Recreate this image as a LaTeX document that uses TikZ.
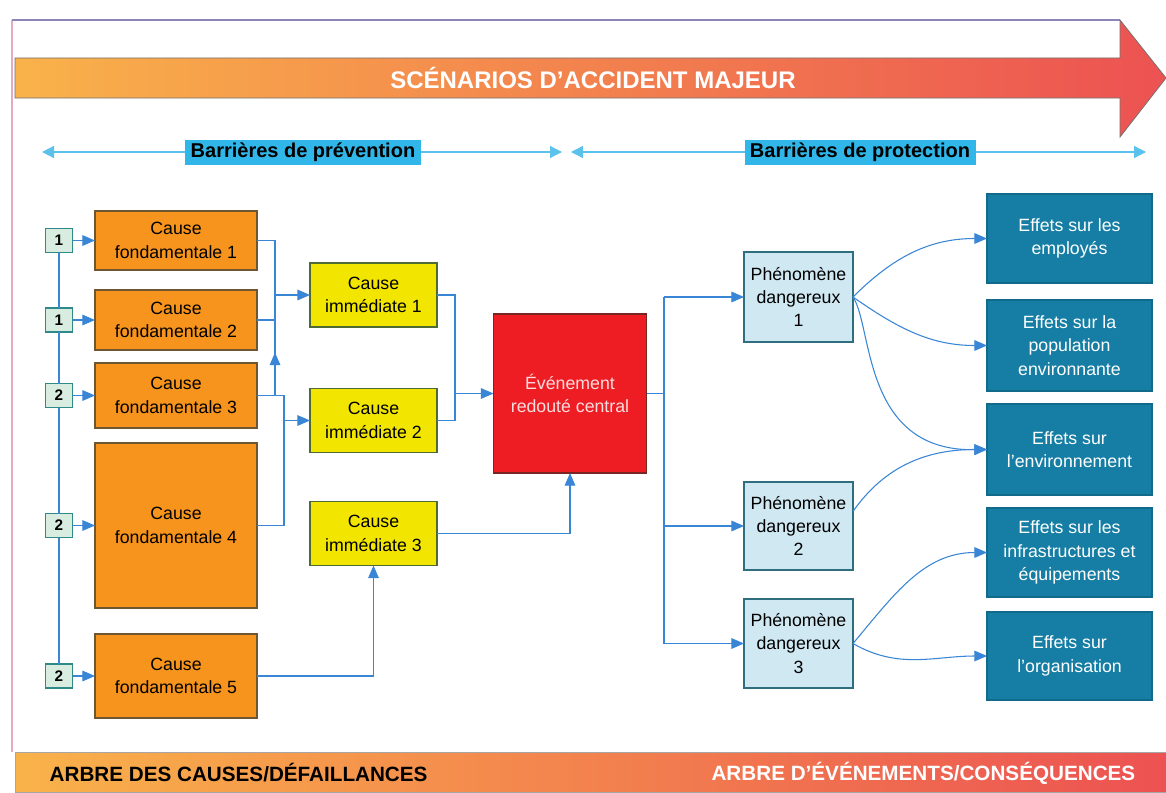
\documentclass[tikz,border=0pt]{standalone}
\usepackage{fontspec}
\setmainfont{Liberation Sans}
\usetikzlibrary{arrows.meta,calc}

\definecolor{cfOrange}{HTML}{F7941E}
\definecolor{cfEdge}{HTML}{6E5630}
\definecolor{ciYellow}{HTML}{F2E600}
\definecolor{ciEdge}{HTML}{4E6B34}
\definecolor{ercRed}{HTML}{EE1D24}
\definecolor{ercEdge}{HTML}{7A2424}
\definecolor{pdBlue}{HTML}{CFE8F2}
\definecolor{pdEdge}{HTML}{2F6E7E}
\definecolor{effTeal}{HTML}{167EA4}
\definecolor{effEdge}{HTML}{126A8A}
\definecolor{numFill}{HTML}{D8EDDF}
\definecolor{numEdge}{HTML}{2E8A8A}
\definecolor{linkBlue}{HTML}{3A86D6}
\definecolor{barLine}{HTML}{5CC2EC}
\definecolor{barLabel}{HTML}{30B6E8}
\definecolor{warmL}{HTML}{F9B24A}
\definecolor{warmM}{HTML}{F3884F}
\definecolor{warmR}{HTML}{EC5252}
\definecolor{frameLine}{HTML}{E6A9BE}
\definecolor{frameTop}{HTML}{8C86B6}

\tikzset{
  pxw/.style={minimum width=#1*0.75pt},
  pxh/.style={minimum height=#1*0.75pt},
  box/.style={draw, line width=0.9pt, align=center, inner sep=2pt, outer sep=0pt,
    font=\fontsize{13.3}{17.5}\selectfont},
  fond/.style={box, fill=cfOrange, draw=cfEdge, pxw=162, pxh=#1},
  imm/.style={box, fill=ciYellow, draw=ciEdge, pxw=127, pxh=64},
  central/.style={box, fill=ercRed, draw=ercEdge, text=white!85!ercRed, pxw=153, pxh=159},
  phen/.style={box, fill=pdBlue, draw=pdEdge, pxw=109, pxh=#1},
  effet/.style={box, fill=effTeal, draw=effEdge, text=white, pxw=165, pxh=#1},
  numbox/.style={draw=numEdge, line width=0.9pt, fill=numFill, outer sep=0pt,
    inner sep=0pt, pxw=27, pxh=24, font=\fontsize{11.5}{11.5}\selectfont\bfseries},
  barlabel/.style={fill=barLabel, inner sep=0pt, pxw=#1, pxh=25,
    font=\fontsize{15}{15}\selectfont\bfseries},
  link/.style={draw=linkBlue, line width=0.8pt},
  arr/.style={link, -{Triangle[length=9.5pt,width=8pt]}},
  bar/.style={draw=barLine, line width=0.9pt,
    {Triangle[length=9pt,width=9pt]}-{Triangle[length=9pt,width=9pt]}}
}

\begin{document}
\begin{tikzpicture}[x=0.75pt,y=-0.75pt]
\useasboundingbox (0,0) rectangle (1166,792);
\fill[white] (0,0) rectangle (1166,792);

% frame lines
\draw[frameLine, line width=0.8pt] (12,20) -- (12,752);
\draw[frameTop, line width=0.8pt] (12,20) -- (1120,20);

% main arrow: major accident scenarios
\shadedraw[left color=warmL, middle color=warmM, right color=warmR,
  draw=black!55, line width=0.6pt]
  (15,58) -- (1120,58) -- (1120,20) -- (1166,78) -- (1120,137) -- (1120,98) -- (15,98) -- cycle;
\node[text=white, font=\fontsize{18}{18}\selectfont\bfseries] (titre) at (593,78)
  {SCÉNARIOS D'ACCIDENT MAJEUR};

% barrier ranges
\coordinate (bA) at (42,152);
\coordinate (bB) at (562,152);
\coordinate (bC) at (571,152);
\coordinate (bD) at (1146,152);
\draw[bar] (bA) -- (bB);
\draw[bar] (bC) -- (bD);
\node[barlabel=236] (bprev) at (303,152.5) {Barrières de prévention};
\node[barlabel=231] (bprot) at (860,152.5) {Barrières de protection};

% root causes
\node[fond=59] (cf1) at (176,240.5) {Cause\\fondamentale 1};
\node[fond=60] (cf2) at (176,320) {Cause\\fondamentale 2};
\node[fond=65] (cf3) at (176,395.5) {Cause\\fondamentale 3};
\node[fond=165] (cf4) at (176,525.5) {Cause\\fondamentale 4};
\node[fond=84] (cf5) at (176,676) {Cause\\fondamentale 5};

% barrier numbers
\node[numbox] (n1) at (59,240.5) {1};
\node[numbox] (n2) at (59,320) {1};
\node[numbox] (n3) at (59,395.5) {2};
\node[numbox] (n4) at (59,525.5) {2};
\node[numbox] (n5) at (59,676) {2};
\draw[link] (n1.south) -- (n2.north);
\draw[link] (n2.south) -- (n3.north);
\draw[link] (n3.south) -- (n4.north);
\draw[link] (n4.south) -- (n5.north);
\foreach \i in {1,...,5} {\draw[arr] (n\i.east) -- (cf\i.west);}

% immediate causes
\node[imm] (ci1) at (373.5,295) {Cause\\immédiate 1};
\node[imm] (ci2) at (373.5,420.5) {Cause\\immédiate 2};
\node[imm] (ci3) at (373.5,533.5) {Cause\\immédiate 3};

% central event
\node[central] (erc) at (570,393.5) {Événement\\redouté central};

% dangerous phenomena
\node[phen=90] (pd1) at (798.5,297) {Phénomène\\dangereux\\1};
\node[phen=88] (pd2) at (798.5,526) {Phénomène\\dangereux\\2};
\node[phen=89] (pd3) at (798.5,643.5) {Phénomène\\dangereux\\3};

% effects
\node[effet=89] (e1) at (1069.5,238.5) {Effets sur les\\employés};
\node[effet=91] (e2) at (1069.5,345.5) {Effets sur la\\population\\environnante};
\node[effet=91] (e3) at (1069.5,449.5) {Effets sur\\l'environnement};
\node[effet=89] (e4) at (1069.5,552.5) {Effets sur les\\infrastructures et\\équipements};
\node[effet=88] (e5) at (1069.5,656) {Effets sur\\l'organisation};

% bottom band
\shadedraw[left color=warmL, middle color=warmM, right color=warmR,
  draw=black!35, line width=0.5pt] (15,752) rectangle (1166,792);
\node[anchor=west, font=\fontsize{15.5}{15.5}\selectfont\bfseries] (arbg) at (45,773)
  {ARBRE DES CAUSES/DÉFAILLANCES};
\node[anchor=east, text=white, font=\fontsize{15.5}{15.5}\selectfont\bfseries] (arbd) at (1140,773)
  {ARBRE D'ÉVÉNEMENTS/CONSÉQUENCES};

% junction columns
\coordinate (jA) at (275,0);
\coordinate (jB) at (284,0);
\coordinate (jC) at (455,0);
\coordinate (jD) at (664,0);

% root causes -> immediate cause 1
\draw[link] (cf1.east) -- (cf1.east -| jA) -- (jA |- cf3.east);
\draw[link] (cf2.east) -- (cf2.east -| jA);
\draw[arr] (ci1.west -| jA) -- (ci1.west);
\draw[arr] (jA |- cf3.east) -- ($(jA |- cf3.east)+(0,-43)$);

% root causes -> immediate cause 2
\draw[link] (cf3.east) -- (cf3.east -| jB) -- (jB |- cf4.east) -- (cf4.east);
\draw[arr] (ci2.west -| jB) -- (ci2.west);

% root cause 5 -> immediate cause 3
\draw[arr] (cf5.east) -| (ci3.south);

% immediate causes -> central event
\draw[link] (ci1.east) -- (ci1.east -| jC) -- (ci2.east -| jC) -- (ci2.east);
\draw[arr] (erc.west -| jC) -- (erc.west);
\draw[arr] (ci3.east) -| (erc.south);

% central event -> dangerous phenomena
\draw[link] (erc.east) -- (erc.east -| jD);
\draw[link] (jD |- pd1.west) -- (jD |- pd3.west);
\draw[arr] (jD |- pd1.west) -- (pd1.west);
\draw[arr] (jD |- pd2.west) -- (pd2.west);
\draw[arr] (jD |- pd3.west) -- (pd3.west);

% dangerous phenomena -> effects
\draw[arr] (pd1.east) to[out=45,in=180] (e1.west);
\draw[arr] (pd1.east) to[out=-35,in=180] (e2.west);
\draw[arr] (pd1.east) .. controls +(20,30) and +(-125,2) .. (e3.west);
\draw[arr] (pd2.15) to[out=55,in=180] (e3.west);
\draw[arr] (pd3.east) to[out=50,in=180] (e4.west);
\draw[arr] (pd3.east) to[out=-30,in=180] (e5.west);
\end{tikzpicture}
\end{document}
